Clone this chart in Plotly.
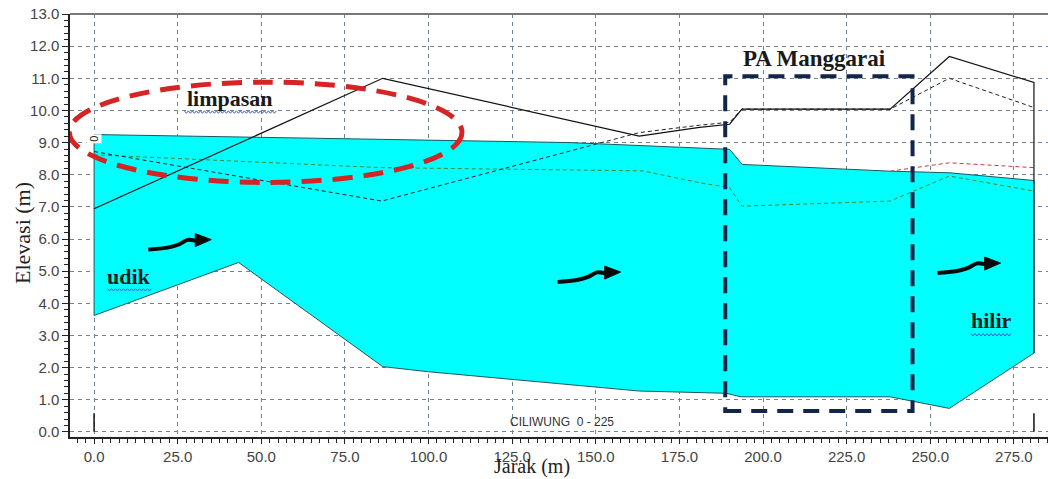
import plotly.graph_objects as go

# ---------------- data ----------------
# water surface (top of cyan area)
ws_x = [0.0, 45.0, 86.0, 142.0, 181.0, 190.0, 193.8, 238.0, 255.7, 281.0]
ws_y = [9.25, 9.18, 9.10, 9.00, 8.84, 8.79, 8.32, 8.11, 8.06, 7.82]

# channel bed (bottom of cyan area)
bed_x = [0.0, 43.2, 86.3, 100.0, 163.0, 181.0, 189.0, 193.4, 238.0, 255.7, 281.0]
bed_y = [3.62, 5.27, 2.03, 1.87, 1.27, 1.22, 1.20, 1.09, 1.09, 0.73, 2.45]

# left bank / levee (solid black line)
bank_l_x = [0.0, 86.3, 163.0, 181.0, 190.0, 193.7, 238.0, 255.7, 281.0, 281.0]
bank_l_y = [6.94, 11.00, 9.20, 9.47, 9.57, 10.04, 10.04, 11.68, 10.87, 2.45]

# right bank (black dashed line)
bank_r_x = [0.0, 86.0, 163.0, 181.0, 190.0, 193.7, 238.0, 255.7, 281.0]
bank_r_y = [8.72, 7.18, 9.31, 9.54, 9.63, 10.04, 10.04, 11.00, 10.09]

# green dashed line (energy / critical level)
green_x = [0.0, 86.0, 164.0, 181.0, 190.0, 193.7, 238.0, 255.7, 281.0]
green_y = [8.62, 8.22, 8.12, 7.75, 7.60, 7.02, 7.18, 7.96, 7.49]

# red dashed line
red_x = [238.0, 255.7, 281.0]
red_y = [8.11, 8.37, 8.22]

# station markers at the bottom
sta_x = [0.0, 281.0]
sta_h = [0.58, 0.58]

x_ticks = [0, 25, 50, 75, 100, 125, 150, 175, 200, 225, 250, 275]
y_ticks = list(range(0, 14))

# annotation anchors (data units)
ellipse = dict(x0=-7.4, x1=110.0, y0=7.76, y1=10.88)
box_pa = dict(x0=188.7, x1=244.7, y0=0.65, y1=11.06)
arrow_tails = [(16.2, 5.67), (138.6, 4.66), (252.2, 4.94)]

X_RANGE = [-7.2, 285.2]
Y_RANGE = [-0.16, 13.0]
L, R, T, B = 70, 0, 14, 42
W, H = 1048, 479
PX_X = (W - L - R) / (X_RANGE[1] - X_RANGE[0])
PX_Y = (H - T - B) / (Y_RANGE[1] - Y_RANGE[0])


def off(pt, dx, dy):
    """offset a data point by pixel amounts (dy positive = down)"""
    return pt[0] + dx / PX_X, pt[1] - dy / PX_Y


fig = go.Figure()

# cyan flow area polygon
poly_x = ws_x + bed_x[::-1] + [ws_x[0]]
poly_y = ws_y + bed_y[::-1] + [ws_y[0]]
fig.add_trace(go.Scatter(x=poly_x, y=poly_y, mode="lines", fill="toself",
                         fillcolor="#00FFFF", line=dict(color="#1c5660", width=1),
                         hoverinfo="skip", showlegend=False))

fig.add_trace(go.Scatter(x=green_x, y=green_y, mode="lines",
                         line=dict(color="#3c8c3c", width=1, dash="4px,3px"),
                         showlegend=False))
fig.add_trace(go.Scatter(x=red_x, y=red_y, mode="lines",
                         line=dict(color="#c83c3c", width=1, dash="4px,3px"),
                         showlegend=False))
fig.add_trace(go.Scatter(x=bank_r_x, y=bank_r_y, mode="lines",
                         line=dict(color="#222222", width=1, dash="4px,3px"),
                         showlegend=False))
fig.add_trace(go.Scatter(x=bank_l_x, y=bank_l_y, mode="lines",
                         line=dict(color="#111111", width=1.2),
                         showlegend=False))

# station markers
sx, sy = [], []
for xv, hv in zip(sta_x, sta_h):
    sx += [xv, xv, None]
    sy += [0.0, hv, None]
fig.add_trace(go.Scatter(x=sx, y=sy, mode="lines",
                         line=dict(color="#111111", width=1.5), showlegend=False))

shapes = []
# red dashed ellipse
shapes.append(dict(type="circle", xref="x", yref="y", **ellipse,
                   line=dict(color="#d42424", width=5, dash="20px,11px")))
# PA Manggarai dashed box
shapes.append(dict(type="rect", xref="x", yref="y", **box_pa,
                   line=dict(color="#14254a", width=4, dash="16px,10px")))

annotations = []
# flow arrows
for t in arrow_tails:
    p1 = off(t, 14, -1)
    p2 = off(t, 26, -2)
    p3 = off(t, 34, -7)
    p4 = off(t, 40, -9)
    p5 = off(t, 50, -9)
    path = (f"M {t[0]},{t[1]} C {p1[0]},{p1[1]} {p2[0]},{p2[1]} {p3[0]},{p3[1]} "
            f"S {p4[0]},{p4[1]} {p5[0]},{p5[1]}")
    shapes.append(dict(type="path", xref="x", yref="y", path=path,
                       line=dict(color="#0a0a0a", width=4)))
    h1 = off(t, 47, -16)
    h2 = off(t, 63, -10)
    h3 = off(t, 47, -3)
    shapes.append(dict(type="path", xref="x", yref="y",
                       path=f"M {h1[0]},{h1[1]} L {h2[0]},{h2[1]} L {h3[0]},{h3[1]} Z",
                       fillcolor="#0a0a0a", line=dict(color="#0a0a0a", width=1)))


def label(text, x, y, size):
    annotations.append(dict(x=x, y=y, xref="x", yref="y", text=f"<b>{text}</b>",
                            showarrow=False,
                            font=dict(family="Liberation Serif", size=size, color="#1a1a1a")))


label("limpasan", 40.7, 10.36, 22)
label("udik", 10.3, 4.84, 22)
label("hilir", 268.3, 3.45, 22)
label("PA Manggarai", 215.3, 11.62, 23)

# wavy blue underline (spell-check squiggle) under labels
squig = [(27.0, 9.95, 92), (4.0, 4.42, 44), (262.2, 3.02, 41)]
for sx0, sy0, wpx in squig:
    pts = []
    n = int(wpx / 2)
    for i in range(n + 1):
        pts.append(off((sx0, sy0), i * 2, 1.2 if i % 2 else -1.2))
    path = "M " + " L ".join(f"{a},{b}" for a, b in pts)
    shapes.append(dict(type="path", xref="x", yref="y", path=path,
                       line=dict(color="#3c5adc", width=1)))

# little rotated "0" station label
annotations.append(dict(x=0.1, y=9.13, xref="x", yref="y", text="0", textangle=-90,
                        showarrow=False, bgcolor="white",
                        font=dict(family="Arial", size=11, color="#222")))
annotations.append(dict(x=140.0, y=0.32, xref="x", yref="y", text="CILIWUNG  0 - 225",
                        showarrow=False,
                        font=dict(family="Liberation Sans", size=12, color="#333")))
# axis titles (positions in pixels converted to paper coords)
annotations.append(dict(x=(22 - L) / (W - L - R), y=(H - B - 233) / (H - T - B),
                        xref="paper", yref="paper", text="Elevasi (m)",
                        textangle=-90, showarrow=False,
                        xanchor="center", yanchor="middle",
                        font=dict(family="Liberation Serif", size=22, color="#222")))
annotations.append(dict(x=(531.7 - L) / (W - L - R), y=(H - B - 480) / (H - T - B),
                        xref="paper", yref="paper", text="Jarak (m)",
                        showarrow=False, xanchor="center", yanchor="bottom",
                        font=dict(family="Liberation Serif", size=20, color="#222")))

grid = "#6e8494"
fig.update_layout(
    width=W, height=H, autosize=False,
    margin=dict(l=L, r=R, t=T, b=B),
    paper_bgcolor="white", plot_bgcolor="white",
    shapes=shapes, annotations=annotations,
    showlegend=False,
    xaxis=dict(range=X_RANGE, tickvals=x_ticks, ticktext=[f"{v:.1f}" for v in x_ticks],
               showgrid=True, gridcolor=grid, griddash="4px,4px", gridwidth=1,
               zeroline=False, showline=True, linecolor="#222", linewidth=1.5,
               ticks="outside", ticklen=5, tickcolor="#222",
               minor=dict(dtick=2.5, ticks="outside", ticklen=4, tickcolor="#222", showgrid=False),
               tickfont=dict(family="Liberation Sans", size=15, color="#444")),
    yaxis=dict(range=Y_RANGE, tickvals=y_ticks, ticktext=[f"{v:.1f}" for v in y_ticks],
               showgrid=True, gridcolor=grid, griddash="4px,4px", gridwidth=1,
               zeroline=False, showline=True, linecolor="#222", linewidth=1.5,
               ticks="outside", ticklen=6, tickcolor="#222",
               minor=dict(dtick=0.2, ticks="outside", ticklen=4, tickcolor="#222", showgrid=False),
               tickfont=dict(family="Liberation Sans", size=15, color="#444")),
)
# top border line
fig.add_shape(type="line", xref="paper", yref="paper", x0=0, x1=1, y0=1, y1=1,
              line=dict(color="#777", width=2))

fig.write_html("out.html", config={"displayModeBar": False},
               post_script="document.body.style.margin='0';document.body.style.overflow='hidden';")
